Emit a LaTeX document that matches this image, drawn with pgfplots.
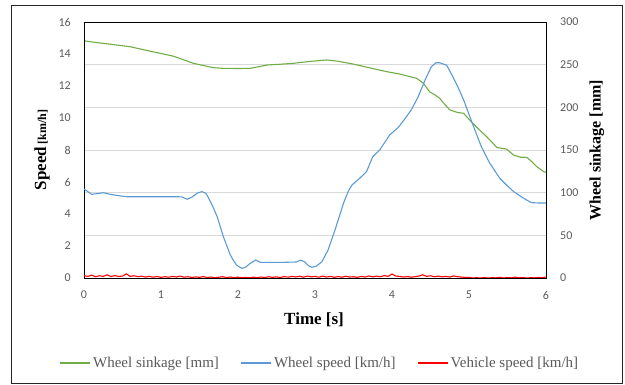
\documentclass[border=0pt]{standalone}
\usepackage{pgfplots}
\pgfplotsset{compat=1.18}
\usepackage{fontspec}
\setmainfont{Liberation Serif}
\newfontfamily\tickfont{Carlito}
\definecolor{sinkgreen}{HTML}{70AD47}
\definecolor{wblue}{HTML}{5B9BD5}
\definecolor{vred}{HTML}{FF0000}
\definecolor{tickgray}{HTML}{595959}
\definecolor{gridgray}{HTML}{D9D9D9}
\begin{document}
\begin{tikzpicture}
% right axis: wheel sinkage (drawn first so its grid sits behind)
\begin{axis}[
  scale only axis, width=462pt, height=256pt,
  xmin=0, xmax=6, ymin=0, ymax=300,
  hide x axis,
  axis y line*=right,
  axis line style={black},
  ytick={0,50,...,300},
  ymajorgrids, grid style={gridgray, line width=0.8pt},
  major tick length=0,
  /pgf/number format/assume math mode=true,
  tick label style={font=\tickfont\fontsize{12}{14}\selectfont, text=tickgray},
  yticklabel style={inner sep=0pt, anchor=west, xshift=14pt},
  ylabel={\fontsize{16}{18}\selectfont\bfseries Wheel sinkage [mm]},
  ylabel style={at={(axis description cs:1.110,0.5)}, anchor=center},
]
\addplot[sinkgreen, line width=1.1pt] coordinates {
(0,278) (0.15,276) (0.34,274) (0.6,271) (0.9,265) (1.16,260) (1.42,251.6) (1.55,249)
(1.68,246.5) (1.8,245.7) (2.0,245.5) (2.16,245.7) (2.38,249.6) (2.55,250.5) (2.72,251.6)
(2.9,253.5) (3.15,255.5) (3.3,254) (3.49,250.8) (3.7,246.5) (3.93,241.8) (4.1,239)
(4.23,236) (4.32,234) (4.41,228) (4.49,218) (4.55,215) (4.62,210.6) (4.68,204) (4.75,197)
(4.85,194) (4.93,193) (5.03,183) (5.13,174) (5.23,165.6) (5.3,159) (5.36,153) (5.49,151)
(5.58,144) (5.67,141.5) (5.75,141.4) (5.82,136) (5.88,130.5) (5.97,124.6) (6.0,124)
};
\end{axis}
% left axis: speeds
\begin{axis}[
  scale only axis, width=462pt, height=256pt,
  xmin=0, xmax=6, ymin=0, ymax=16,
  xtick={0,...,6}, ytick={0,2,...,16},
  axis line style={black},
  major tick length=0,
  /pgf/number format/assume math mode=true,
  tick label style={font=\tickfont\fontsize{12}{14}\selectfont, text=tickgray},
  yticklabel style={inner sep=0pt, anchor=east, xshift=-13pt},
  xticklabel style={inner sep=0pt, anchor=north, yshift=-13pt},
  xlabel={\fontsize{17}{19}\selectfont\bfseries Time [s]},
  xlabel style={at={(axis description cs:0.498,-0.164)}, anchor=center},
  ylabel={\bfseries{\fontsize{17}{19}\selectfont Speed} {\fontsize{12}{14}\selectfont [km/h]}},
  ylabel style={at={(axis description cs:-0.091,0.5)}, anchor=center},
  legend columns=3,
  legend style={draw=none, fill=none, at={(axis description cs:0.51,-0.332)}, anchor=center,
    font=\fontsize{15}{17}\selectfont, column sep=0pt,
    /tikz/every odd column/.style={column sep=1pt},
    /tikz/every even column/.style={column sep=20pt},
    nodes={inner sep=1.5pt, text=tickgray}},
  legend image code/.code={\draw[#1] (0pt,0pt) -- (30pt,0pt);},
]
\addlegendimage{draw=sinkgreen, line width=1.1pt}
\addlegendentry{Wheel sinkage [mm]}
\addlegendimage{draw=wblue, line width=1.1pt}
\addlegendentry{Wheel speed [km/h]}
\addlegendimage{draw=vred, line width=1.1pt}
\addlegendentry{Vehicle speed [km/h]}
\addplot[wblue, line width=1.1pt, forget plot] coordinates {
(0,5.56) (0.05,5.4) (0.1,5.23) (0.18,5.28) (0.25,5.33) (0.32,5.25) (0.38,5.2) (0.47,5.13)
(0.56,5.08) (0.8,5.08) (1.0,5.08) (1.2,5.08) (1.27,5.07) (1.34,4.92) (1.4,5.05) (1.47,5.3)
(1.53,5.4) (1.58,5.3) (1.61,5.08) (1.67,4.5) (1.73,3.83) (1.81,2.58) (1.86,1.95) (1.90,1.44)
(1.94,1.1) (1.98,0.81) (2.05,0.6) (2.1,0.68) (2.16,0.92) (2.23,1.12) (2.29,0.98) (2.4,0.98)
(2.6,0.98) (2.76,1.0) (2.81,1.12) (2.87,1.0) (2.92,0.75) (2.96,0.67) (3.02,0.75) (3.09,1.02)
(3.17,1.75) (3.26,3.0) (3.37,4.67) (3.43,5.4) (3.48,5.81) (3.58,6.23) (3.67,6.65) (3.75,7.58)
(3.84,8.0) (3.97,8.94) (4.08,9.4) (4.16,9.9) (4.25,10.5) (4.34,11.33) (4.43,12.38) (4.51,13.2)
(4.57,13.45) (4.62,13.45) (4.71,13.3) (4.79,12.58) (4.86,11.9) (4.93,11.13) (5.06,9.46)
(5.16,8.21) (5.27,7.17) (5.40,6.23) (5.5,5.75) (5.58,5.4) (5.71,4.98) (5.81,4.71) (5.9,4.69) (6.0,4.69)
};
\addplot[vred, line width=1.1pt, forget plot] coordinates {
(0,0.15) (0.05,0.1) (0.1,0.18) (0.15,0.08) (0.2,0.14) (0.25,0.1) (0.3,0.2) (0.35,0.09)
(0.4,0.15) (0.45,0.1) (0.5,0.12) (0.55,0.26) (0.6,0.1) (0.65,0.14) (0.7,0.08) (0.75,0.12)
(0.8,0.06) (0.85,0.1) (0.9,0.05) (0.95,0.09) (1.0,0.04) (1.05,0.08) (1.1,0.05) (1.15,0.1)
(1.2,0.06) (1.25,0.12) (1.3,0.05) (1.35,0.08) (1.4,0.03) (1.45,0.07) (1.5,0.04) (1.55,0.09)
(1.6,0.03) (1.65,0.06) (1.7,0.02) (1.75,0.05) (1.8,0.08) (1.85,0.03) (1.9,0.06) (1.95,0.02)
(2.0,0.05) (2.05,0.02) (2.1,0.04) (2.15,0.01) (2.2,0.05) (2.25,0.02) (2.3,0.06) (2.35,0.03)
(2.4,0.08) (2.45,0.04) (2.5,0.07) (2.55,0.03) (2.6,0.09) (2.65,0.05) (2.7,0.1) (2.75,0.06)
(2.8,0.11) (2.85,0.05) (2.9,0.12) (2.95,0.07) (3.0,0.1) (3.05,0.05) (3.1,0.12) (3.15,0.06)
(3.2,0.1) (3.25,0.04) (3.3,0.09) (3.35,0.05) (3.4,0.11) (3.45,0.06) (3.5,0.08) (3.55,0.04)
(3.6,0.1) (3.65,0.06) (3.7,0.13) (3.75,0.07) (3.8,0.12) (3.85,0.08) (3.9,0.15) (3.95,0.1)
(4.0,0.25) (4.05,0.12) (4.1,0.1) (4.15,0.06) (4.2,0.09) (4.25,0.05) (4.3,0.08) (4.35,0.12)
(4.4,0.2) (4.45,0.1) (4.5,0.14) (4.55,0.08) (4.6,0.12) (4.65,0.07) (4.7,0.1) (4.75,0.06)
(4.8,0.13) (4.85,0.08) (4.9,0.06) (4.95,0.03) (5.0,0.04) (5.05,0.0) (5.1,0.02) (5.15,0.0)
(5.2,0.03) (5.25,0.0) (5.3,0.02) (5.35,0.01) (5.4,0.04) (5.45,0.0) (5.5,0.03) (5.55,0.01)
(5.6,0.05) (5.65,0.01) (5.7,0.03) (5.75,0.0) (5.8,0.02) (5.85,0.01) (5.9,0.03) (5.95,0.02) (6.0,0.06)
};
\end{axis}
\draw[black!85, line width=0.8pt] (-73pt,-105pt) rectangle (538pt,273pt);
\pgfresetboundingbox
\path[use as bounding box] (-84pt,-107pt) rectangle (541pt,278pt);
\end{tikzpicture}
\end{document}
